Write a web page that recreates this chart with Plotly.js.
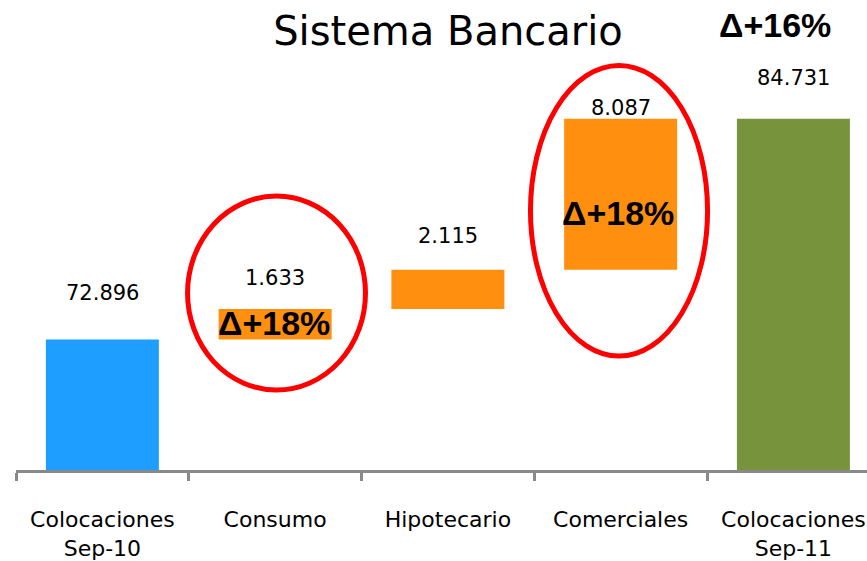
<!DOCTYPE html>
<html>
<head>
<meta charset="utf-8">
<script src="https://cdn.plot.ly/plotly-3.0.1.min.js"></script>
<style>html,body{margin:0;padding:0;background:#fff;}#chart{width:867px;height:561px;}</style>
</head>
<body>
<div id="chart"></div>
<script>
// Data
const categories = ["Colocaciones<br>Sep-10", "Consumo", "Hipotecario", "Comerciales", "Colocaciones<br>Sep-11"];
const measures = ["total", "relative", "relative", "relative", "total"];
const values = [72.896, 1.633, 2.115, 8.087, 84.731];
const valueLabels = ["72.896", "1.633", "2.115", "8.087", "84.731"];
const deltaLabels = ["Δ+18%", "Δ+18%", "Δ+16%"];

// Styles
const barColors = ["#1E9FFF", "#FF8F0F", "#FF8F0F", "#FF8F0F", "#77933C"];
const labelShift = [47, 31, 34, 11, 41];

// build bases / tops from the values
const bases = [], heights = [], tops = [];
let running = 0;
values.forEach((v, i) => {
  if (measures[i] === "total") { bases.push(0); heights.push(v); running = v; }
  else { bases.push(running); heights.push(v); running += v; }
  tops.push(bases[i] + heights[i]);
});

const trace = {
  type: "bar",
  x: categories,
  y: heights,
  base: bases,
  width: 0.654,
  marker: {color: barColors, line: {width: 0}},
  hoverinfo: "none"
};

const annotations = valueLabels.map((t, i) => ({
  x: categories[i], y: tops[i], xref: "x", yref: "y",
  text: t, showarrow: false, yanchor: "middle", yshift: labelShift[i],
  font: {family: "DejaVu Sans", size: 21, color: "#000"}
}));
annotations.push({x: 1, y: 73.78, xref: "x", yref: "y", text: deltaLabels[0], showarrow: false,
  yanchor: "middle", xshift: -1, font: {family: "Liberation Sans", size: 34, color: "#000", weight: "bold"}});
annotations.push({x: 3, y: 79.68, xref: "x", yref: "y", text: deltaLabels[1], showarrow: false,
  yanchor: "middle", xshift: -3, font: {family: "Liberation Sans", size: 34, color: "#000", weight: "bold"}});
annotations.push({x: 3.894, y: 89.76, xref: "x", yref: "y", text: deltaLabels[2], showarrow: false,
  yanchor: "middle", font: {family: "Liberation Sans", size: 34, color: "#000", weight: "bold"}});

const layout = {
  width: 867, height: 561,
  margin: {l: 16, r: 0, t: 10, b: 91},
  paper_bgcolor: "#fff", plot_bgcolor: "#fff",
  showlegend: false,
  title: {text: "Sistema Bancario", x: 448/867, xanchor: "center", y: 1 - 31/561, yanchor: "middle",
    yref: "container", xref: "container",
    font: {family: "DejaVu Sans", size: 40, color: "#000"}},
  xaxis: {
    type: "category", range: [-0.5, 4.426], fixedrange: true,
    showline: true, linecolor: "#898989", linewidth: 3,
    ticks: "outside", tickson: "boundaries", ticklen: 8, tickwidth: 3, tickcolor: "#898989",
    showgrid: false, zeroline: false,
    ticklabelstandoff: 28,
    tickfont: {family: "DejaVu Sans", size: 22, color: "#000"}
  },
  yaxis: {range: [65.9, 90.566], visible: false, showgrid: false, zeroline: false, fixedrange: true},
  annotations: annotations,
  shapes: [
    {type: "circle", xref: "x", yref: "y", x0: 0.493, x1: 1.523, y0: 70.19, y1: 80.59,
      line: {color: "#FF0000", width: 5}, layer: "above"},
    {type: "circle", xref: "x", yref: "y", x0: 2.478, x1: 3.503, y0: 72.01, y1: 87.59,
      line: {color: "#FF0000", width: 5}, layer: "above"}
  ]
};

Plotly.newPlot("chart", [trace], layout, {displayModeBar: false, staticPlot: true});
</script>
</body>
</html>
